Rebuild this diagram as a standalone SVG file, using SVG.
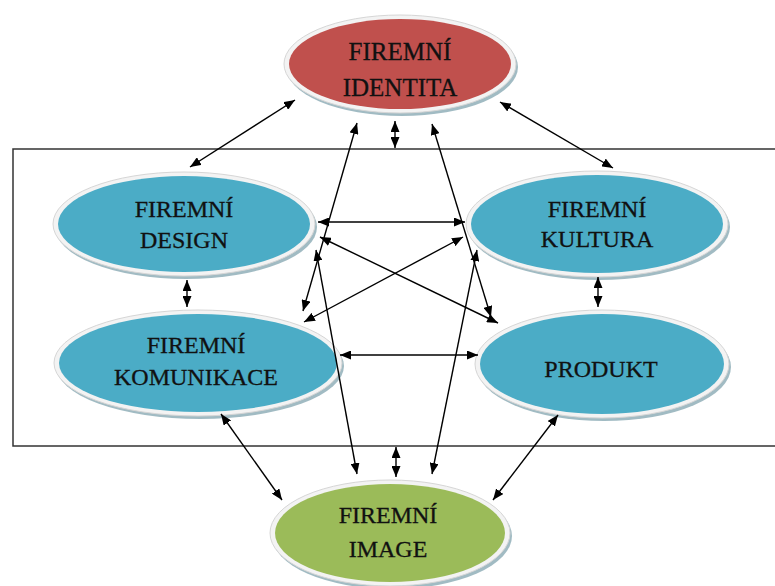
<svg xmlns="http://www.w3.org/2000/svg" width="775" height="586" viewBox="0 0 775 586">
<defs>
<marker id="ah" viewBox="0 0 11 9" refX="11" refY="4.5" markerWidth="11" markerHeight="9" markerUnits="userSpaceOnUse" orient="auto-start-reverse">
<path d="M0,0 L11,4.5 L0,9 z" fill="#000"/>
</marker>
</defs>
<style>
.frame{fill:none;stroke:#333;stroke-width:1.5}
.shadow{fill:#8aaab4;opacity:0.8}
.rim{fill:#f3f3f3;stroke:#d6d6d6;stroke-width:1}
.blue{fill:#4BACC6}
.red{fill:#C0504D}
.green{fill:#9BBB59}
.lbl{font-family:"Liberation Serif","Times New Roman",serif;font-size:24px;fill:#111;stroke:#111;stroke-width:0.3;text-anchor:middle}
.conn line{stroke:#000;stroke-width:1.4;marker-start:url(#ah);marker-end:url(#ah)}
</style>
<rect width="775" height="586" fill="#fff"/>
<rect class="frame" x="13" y="149" width="800" height="297"/>

<g id="identita">
<ellipse class="shadow" cx="402" cy="67" rx="116" ry="49"/>
<ellipse class="rim" cx="400" cy="64" rx="116" ry="49"/>
<ellipse class="red" cx="400" cy="64" rx="111" ry="45"/>
<text class="lbl" x="400" y="60" style="font-size:25px">FIREMNÍ</text>
<text class="lbl" x="400" y="96" style="font-size:25px">IDENTITA</text>
</g>

<g id="design">
<ellipse class="shadow" cx="186" cy="227" rx="131" ry="52"/>
<ellipse class="rim" cx="184" cy="224" rx="131" ry="52"/>
<ellipse class="blue" cx="184" cy="224" rx="126" ry="48"/>
<text class="lbl" x="184" y="217">FIREMNÍ</text>
<text class="lbl" x="184" y="248">DESIGN</text>
</g>

<g id="kultura">
<ellipse class="shadow" cx="599" cy="227" rx="131" ry="53"/>
<ellipse class="rim" cx="597" cy="224" rx="131" ry="53"/>
<ellipse class="blue" cx="597" cy="224" rx="126" ry="49"/>
<text class="lbl" x="597" y="217">FIREMNÍ</text>
<text class="lbl" x="597" y="247">KULTURA</text>
</g>

<g id="komunikace">
<ellipse class="shadow" cx="200" cy="366" rx="144" ry="53"/>
<ellipse class="rim" cx="198" cy="363" rx="144" ry="53"/>
<ellipse class="blue" cx="198" cy="363" rx="139" ry="49"/>
<text class="lbl" x="196" y="353">FIREMNÍ</text>
<text class="lbl" x="196" y="385">KOMUNIKACE</text>
</g>

<g id="produkt">
<ellipse class="shadow" cx="604" cy="367" rx="127" ry="54"/>
<ellipse class="rim" cx="602" cy="364" rx="127" ry="54"/>
<ellipse class="blue" cx="602" cy="364" rx="122" ry="50"/>
<text class="lbl" x="601" y="377">PRODUKT</text>
</g>

<g id="image">
<ellipse class="shadow" cx="392" cy="536" rx="120" ry="53"/>
<ellipse class="rim" cx="390" cy="533" rx="120" ry="53"/>
<ellipse class="green" cx="390" cy="533" rx="115" ry="49"/>
<text class="lbl" x="388" y="523">FIREMNÍ</text>
<text class="lbl" x="388" y="557">IMAGE</text>
</g>

<g id="connectors" class="conn">
<line x1="190" y1="167" x2="295" y2="100"/>
<line x1="500" y1="102" x2="613" y2="168"/>
<line x1="395" y1="121" x2="395" y2="148"/>
<line x1="396" y1="447" x2="396" y2="477"/>
<line x1="357" y1="123" x2="303" y2="311"/>
<line x1="432" y1="124" x2="491" y2="317"/>
<line x1="316" y1="250" x2="357" y2="474"/>
<line x1="477" y1="250" x2="432" y2="474"/>
<line x1="318" y1="222" x2="465" y2="222"/>
<line x1="340" y1="355" x2="478" y2="355"/>
<line x1="320" y1="237" x2="498" y2="323"/>
<line x1="463" y1="237" x2="304" y2="322"/>
<line x1="187" y1="280" x2="187" y2="307"/>
<line x1="598" y1="277" x2="598" y2="307"/>
<line x1="221" y1="414" x2="282" y2="500"/>
<line x1="558" y1="415" x2="493" y2="500"/>
</g>
</svg>
